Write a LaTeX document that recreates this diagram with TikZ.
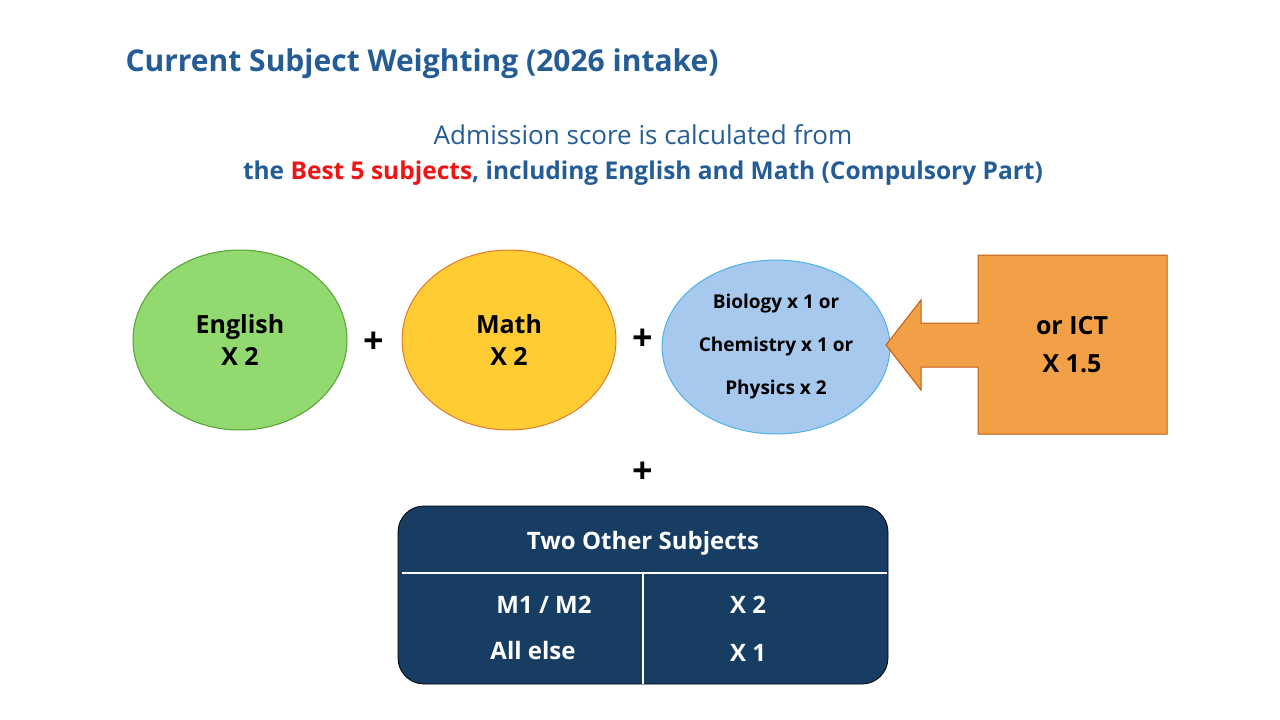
\documentclass[tikz,border=0pt]{standalone}
\usepackage{fontspec}
\setmainfont{Open Sans}
\usetikzlibrary{shapes.geometric}
\definecolor{tblue}{RGB}{36,92,150}
\definecolor{tred}{RGB}{240,20,20}
\definecolor{gfill}{RGB}{146,217,112}
\definecolor{gline}{RGB}{84,160,50}
\definecolor{yfill}{RGB}{255,205,51}
\definecolor{yline}{RGB}{224,123,46}
\definecolor{bfill}{RGB}{167,201,238}
\definecolor{bline}{RGB}{77,179,230}
\definecolor{ofill}{RGB}{242,160,71}
\definecolor{oline}{RGB}{197,90,17}
\definecolor{navy}{RGB}{23,61,99}
\begin{document}
\begin{tikzpicture}[x=1pt,y=-1pt,
  ell/.style={ellipse,minimum width=214pt,minimum height=180pt,line width=1pt,align=center,font=\fontsize{25}{32}\selectfont\bfseries},
  plus/.style={font=\fontsize{36}{36}\selectfont\bfseries},
  wt/.style={text=white,font=\fontsize{24}{28}\selectfont\bfseries}]
\useasboundingbox[fill=white] (0,0) rectangle (1280,720);
\node[anchor=west,text=tblue,font=\fontsize{30}{36}\selectfont\bfseries] (title) at (122,64) {Current Subject Weighting (2026 intake)};
\node[text=tblue,font=\fontsize{26}{32}\selectfont] (l1) at (643,135) {Admission score is calculated from};
\node[text=tblue,font=\fontsize{24.5}{30}\selectfont\bfseries] (l2) at (643,173) {the \textcolor{tred}{Best 5 subjects}, including English and Math (Compulsory Part)};
\node[ell,fill=gfill,draw=gline] (eng) at (240,340) {English\\X 2};
\node[plus] (p1) at (374,343) {+};
\node[ell,fill=yfill,draw=yline] (math) at (509,340) {Math\\X 2};
\node[plus] (p2) at (643,340) {+};
\node[ell,fill=bfill,draw=bline,minimum height=174pt,font=\fontsize{19}{43}\selectfont\bfseries] (sci) at (776,347) {Biology x 1 or\\Chemistry x 1 or\\Physics x 2};
\draw[fill=ofill,draw=oline,line width=1pt] (978,255) -- (1167,255) -- (1167,434) -- (978,434) -- (978,367) -- (921,367) -- (921,390) -- (886,345) -- (921,300) -- (921,323) -- (978,323) -- cycle;
\node[align=center,font=\fontsize{25}{38}\selectfont\bfseries] (ict) at (1072,345) {or ICT\\X 1.5};
\node[plus] (p3) at (643,473) {+};
\draw[fill=navy,draw=black,line width=0.8pt,rounded corners=26pt] (398,506) rectangle (888,684);
\coordinate (hl) at (402,573); \coordinate (hr) at (887,573);
\coordinate (vt) at (643,573); \coordinate (vb) at (643,684);
\draw[white,line width=1.5pt] (hl) -- (hr);
\draw[white,line width=1.5pt] (vt) -- (vb);
\node[wt] (two) at (643,543) {Two Other Subjects};
\node[wt] (m) at (544,605) {M1 / M2};
\node[wt] (all) at (533,650) {All else};
\node[wt] (x2) at (748,605) {X 2};
\node[wt] (x1) at (748,653) {X 1};
\end{tikzpicture}
\end{document}
